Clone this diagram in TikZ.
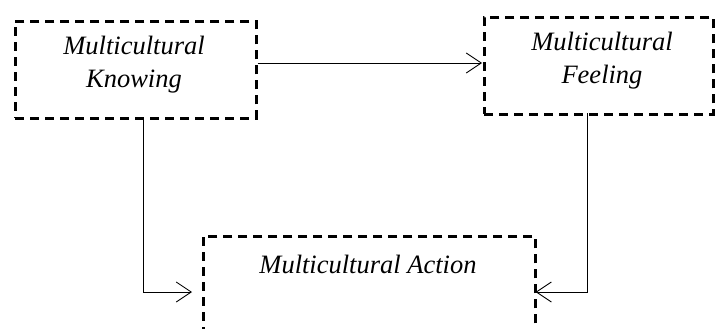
\documentclass[tikz,border=0pt]{standalone}
\usepackage{fontspec}
\setmainfont{Liberation Serif}
\usetikzlibrary{arrows.meta,calc}
\begin{document}
\begin{tikzpicture}[x=1pt,y=-1pt,
  box/.style={draw=black,line width=2.6pt,dash pattern=on 9pt off 6pt,
    rectangle,inner sep=0pt,anchor=north west},
  lbl/.style={font=\fontsize{26.5}{33}\selectfont\itshape,align=center,inner sep=0pt},
  flow/.style={draw=black,line width=0.9pt,-{Straight Barb[length=15pt,width=20pt,line width=0.9pt]}}]
  \useasboundingbox (0,0) rectangle (715,329);
  \clip (0,0) rectangle (715,329);
  % three boxes
  \node[box,minimum width=241pt,minimum height=97pt] (know) at (14,20) {};
  \node[box,minimum width=229pt,minimum height=97pt] (feel) at (483,16) {};
  \node[box,minimum width=332pt,minimum height=130pt] (act) at (202,235) {};
  % their texts
  \node[lbl] (knowt) at (134,65) {Multicultural\\Knowing};
  \node[lbl] (feelt) at (602,61) {Multicultural\\Feeling};
  \node[lbl] (actt) at (368,264) {Multicultural Action};
  % connectors
  \coordinate (kdown) at (143,117);
  \coordinate (fdown) at (587,113);
  \draw[flow,shorten >=1pt] (know.east |- 0,63) -- (feel.west |- 0,63);
  \draw[flow,shorten >=10pt] (kdown) |- (act.west |- 0,292);
  \draw[flow,shorten >=-1pt] (fdown) |- (act.east |- 0,292);
\end{tikzpicture}
\end{document}
